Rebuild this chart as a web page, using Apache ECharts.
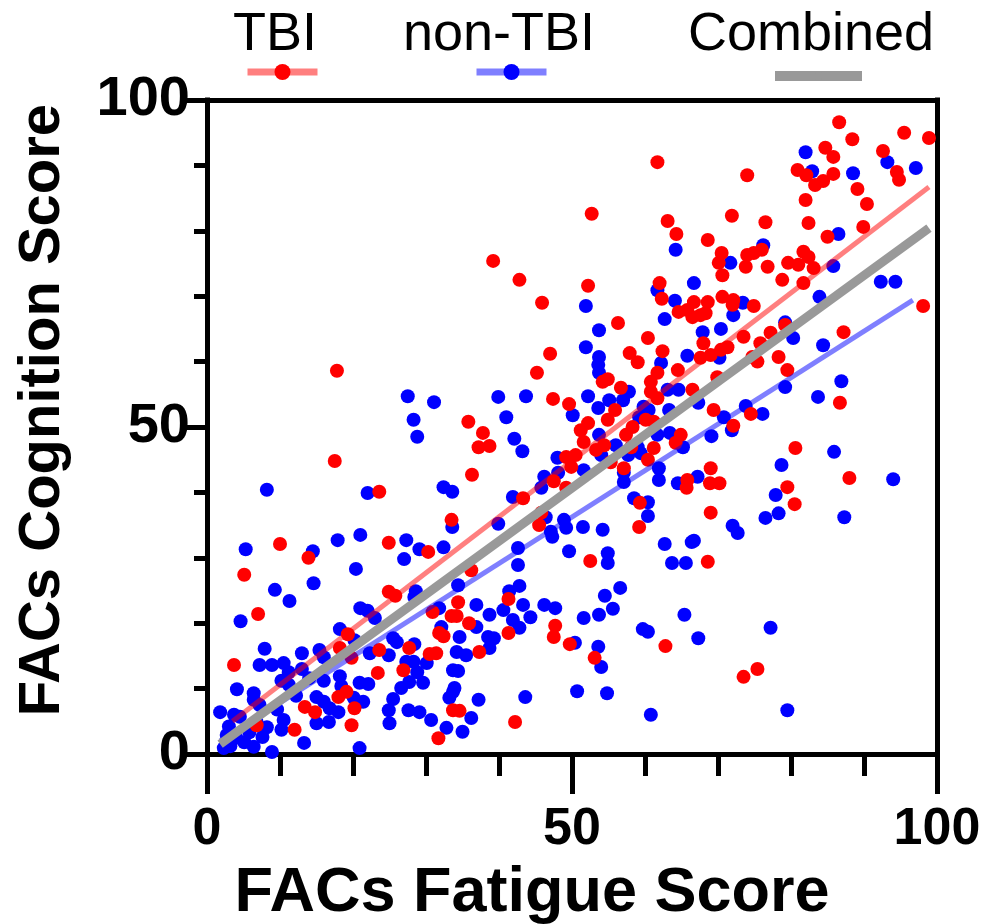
<!DOCTYPE html>
<html>
<head>
<meta charset="utf-8">
<script src="https://cdn.jsdelivr.net/npm/echarts@6/dist/echarts.min.js"></script>
<style>
  html, body { margin: 0; padding: 0; background: #fff; }
  #chart { width: 994px; height: 924px; }
</style>
</head>
<body>
<div id="chart"></div>
<script>
// TBI points [fatigue, cognition]
const tbiPoints = [
  [17.8,58.6],[17.5,44.8],[23.6,40.1],[33.5,35.8],[10.0,32.1],[13.9,30.0],[24.9,32.3],[30.3,30.9],
  [5.1,27.4],[7.0,21.4],[24.9,24.8],[25.8,24.2],[30.9,21.7],[33.5,21.1],[19.3,18.3],[18.2,16.2],
  [19.8,14.7],[3.7,13.6],[23.6,15.9],[23.4,12.4],[27.7,16.2],[30.5,15.3],[26.9,12.8],[31.7,2.4],
  [18.0,8.7],[19.1,9.5],[20.2,7.0],[19.8,4.4],[13.4,7.2],[14.8,6.4],[6.8,4.4],[12.0,3.7],
  [33.7,6.7],[31.8,18.5],[31.4,15.4],[32.4,18.0],
  [61.7,90.5],[52.7,82.6],[63.1,81.5],[64.3,79.5],[39.2,75.4],[42.8,72.5],[45.9,69.0],[52.2,71.6],
  [56.3,65.9],[62.0,72.0],[62.3,69.6],[66.7,69.1],[64.6,67.6],[65.8,67.9],[66.5,66.8],
  [60.4,63.6],[47.0,61.2],[45.2,58.3],[57.9,61.3],[59.0,59.9],[62.4,61.6],[64.5,58.7],[61.7,58.3],
  [60.8,56.9],[54.2,56.9],[54.9,57.3],[56.7,56.0],[55.9,52.6],[54.9,51.1],[49.6,53.5],[47.4,54.3],
  [35.8,50.8],[37.8,49.1],[37.2,46.9],[38.7,47.1],[36.3,42.7],[60.8,55.4],[61.7,54.4],[60.1,51.1],
  [61.2,50.8],[66.5,55.7],[58.3,50.0],[57.4,48.8],[58.1,46.9],[64.9,48.8],[64.2,47.6],[61.2,46.8],
  [51.2,49.5],[52.2,50.6],[51.6,47.7],[54.4,47.2],[53.3,46.5],[60.4,45.0],[57.1,43.7],[55.3,44.6],
  [50.5,45.7],[49.2,45.4],[49.9,43.9],[47.5,41.7],[49.2,40.7],[43.3,39.1],[45.8,36.9],[45.5,35.0],
  [65.8,41.9],[65.7,40.7],[59.3,38.4],[59.2,34.7],
  [36.2,28.1],[41.3,23.7],[34.4,23.2],[34.2,21.1],[35.9,20.0],[41.3,18.5],[37.3,15.6],[34.6,6.6],
  [42.2,4.9],[52.5,29.5],[47.7,19.6],[47.5,17.9],[49.7,16.8],[53.1,14.7],[62.8,16.5],
  [98.1,68.5],[87.2,64.5],[86.7,53.7],[79.5,58.7],[78.3,60.7],[77.2,64.4],[79.2,65.6],[75.4,60.0],
  [74.7,60.7],[75.8,62.8],[73.5,63.8],[71.3,62.2],[70.4,61.8],[69.0,61.0],[67.6,60.6],[68.0,62.8],
  [67.6,67.1],[72.0,68.7],[74.9,68.5],[69.4,52.6],[72.1,50.2],[74.5,52.0],[80.6,46.8],[88.0,42.2],
  [79.5,40.8],[80.5,38.2],[69.0,43.7],[68.9,41.4],[70.2,41.4],[69.0,36.9],[68.6,29.4],[73.5,11.8],
  [75.4,13.0],
  [86.6,96.6],[88.4,94.0],[95.5,95.0],[98.9,94.2],[92.6,92.2],[94.5,89.0],[94.8,87.8],[84.7,92.7],
  [85.8,91.3],[80.9,89.3],[82.1,88.5],[83.3,87.0],[84.4,87.6],[85.8,88.7],[89.1,86.4],[90.4,84.1],
  [74.0,88.5],[82.0,84.7],[82.4,81.2],[89.9,80.6],[85.0,79.1],[71.9,82.3],[76.5,81.3],[68.6,78.6],
  [70.5,76.6],[70.1,75.1],[70.6,73.2],[74.0,76.3],[74.9,76.6],[76.0,77.1],[73.8,74.5],[76.8,74.5],
  [78.8,72.5],[79.6,75.1],[81.0,74.8],[81.7,76.8],[82.4,76.0],[83.1,74.3],[81.7,72.0],[68.6,69.1],
  [70.6,69.9],[72.1,69.4],[68.3,67.4],[69.9,57.6]
];

// non-TBI points [fatigue, cognition]
const nonTbiPoints = [
  [27.5,54.7],[31.1,53.8],[28.3,51.1],[28.8,48.5],[8.2,40.4],[22.0,39.9],[32.4,40.8],[33.6,40.1],
  [33.6,34.7],[5.3,31.3],[14.5,31.0],[17.9,32.7],[21.0,33.5],[27.3,32.7],[29.1,31.3],[32.4,31.6],
  [27.0,29.8],
  [20.4,28.3],[14.6,26.1],[9.3,25.1],[11.3,23.4],[4.6,20.3],[21.0,22.3],[22.0,21.9],[23.0,20.8],
  [28.6,24.9],[28.4,24.0],[31.8,22.3],[18.2,19.1],[20.2,17.4],[7.9,16.1],[13.0,15.4],[15.4,15.9],
  [16.0,14.8],[7.2,13.6],[8.9,13.6],[10.5,13.9],[11.2,12.5],[13.0,13.0],[10.2,11.2],[11.2,10.6],
  [4.1,9.9],[16.0,11.2],[18.2,11.9],[18.4,10.4],[22.3,15.4],[24.9,15.1],[25.5,17.7],[26.0,17.1],
  [28.4,16.8],[30.1,13.9],[28.3,14.1],[27.3,14.1],[28.8,12.5],[27.7,11.0],[29.6,10.9],[26.6,10.1],
  [25.5,8.4],[24.9,6.7],[25.0,4.7],[27.6,6.7],[29.1,6.4],[30.7,5.2],[20.9,10.9],[22.1,10.7],
  [15.0,8.7],[16.0,8.0],[16.8,7.0],[18.0,6.4],[20.1,8.6],[21.4,8.0],[15.0,4.7],[16.7,4.9],
  [6.4,8.3],[7.2,7.5],[1.8,6.4],[3.7,6.0],[4.5,5.7],[6.8,4.9],[8.2,4.1],[10.5,5.2],
  [10.2,3.7],[2.7,2.9],[2.3,0.9],[5.1,1.8],[6.4,1.1],[8.9,0.3],[13.3,1.7],[20.9,0.9],
  [32.8,4.0],[33.2,8.6],[33.9,10.1],[33.7,12.8],[34.2,15.6],[32.1,19.4],[6.4,9.3],
  [3.0,4.2],[4.0,2.5],[5.8,3.3],[7.6,2.6],[3.2,1.2],[9.6,6.8],[12.2,8.9],[14.0,11.6],
  [64.2,77.1],[51.9,68.5],[53.7,64.8],[61.7,70.9],[64.1,69.3],[66.7,72.0],[62.7,66.5],
  [51.9,62.2],[53.7,60.7],[53.6,59.5],[53.7,58.3],[62.2,59.8],[65.8,60.9],[57.8,55.4],[57.0,54.1],
  [55.1,54.1],[52.2,54.7],[53.6,52.9],[50.1,51.8],[39.9,54.6],[43.7,54.7],[41.0,51.5],[42.1,48.2],
  [43.2,46.3],[59.8,53.1],[60.5,52.6],[59.2,51.5],[63.1,55.7],[64.6,55.7],[67.3,53.7],[63.3,52.6],
  [59.0,46.9],[61.7,48.8],[63.4,49.1],[65.2,46.9],[53.7,48.8],[54.0,45.7],[56.0,47.2],[57.7,45.7],
  [59.4,46.0],[51.6,43.4],[48.0,45.3],[48.1,43.0],[46.2,42.4],[45.8,40.7],[41.9,39.3],[46.4,36.2],
  [39.9,35.2],[47.1,34.0],[48.9,35.8],[49.2,34.6],[51.5,34.7],[54.2,34.3],[57.1,43.0],[57.1,41.6],
  [61.9,43.7],[61.9,41.9],[64.5,41.4],[58.5,39.1],[60.4,38.5],[60.4,36.4],
  [42.6,31.5],[42.6,28.9],[34.4,25.8],[42.8,25.7],[41.4,24.9],[36.9,22.8],[38.7,21.3],[40.6,22.0],
  [43.3,22.8],[44.3,20.9],[41.9,20.5],[42.8,19.3],[36.9,19.4],[38.5,17.9],[39.3,17.7],[34.6,17.9],
  [38.7,16.2],[35.5,15.1],[34.4,12.7],[33.7,9.5],[37.2,8.3],[36.2,5.5],[35.0,3.4],[43.6,8.7],
  [47.3,33.2],[49.6,31.0],[54.9,30.7],[54.9,29.2],[62.7,32.1],[66.4,32.4],[63.7,29.2],[65.6,29.2],
  [56.6,25.4],[54.5,24.2],[55.6,22.2],[53.7,21.3],[51.6,20.8],[46.2,22.8],[47.7,22.3],[50.4,17.0],
  [53.6,16.4],[54.0,13.3],[50.7,9.6],[54.8,9.3],[59.7,19.1],[60.4,18.7],[65.4,21.3],[67.3,17.7],
  [60.8,6.0],
  [84.4,62.5],[86.9,57.0],[83.7,54.6],[79.2,56.1],[80.3,63.6],[70.2,60.6],[70.4,65.0],[67.9,64.5],
  [72.1,67.1],[73.4,69.0],[70.8,51.5],[71.9,49.5],[69.1,48.6],[73.8,53.2],[76.1,52.0],[85.9,46.2],
  [94.0,42.0],[78.7,44.2],[77.9,39.6],[78.3,36.8],[76.5,36.1],[87.3,36.2],[72.0,34.9],[72.7,33.8],
  [67.2,42.4],[66.7,32.6],[77.2,19.3],[79.5,6.7],
  [93.2,90.5],[97.1,89.6],[82.0,92.0],[82.9,89.1],[88.5,88.8],[86.5,79.5],[71.7,75.1],[76.2,77.8],
  [85.8,74.6],[92.3,72.2],[94.3,72.2],[83.9,69.9],[79.2,66.0]
];

// regression line end points
const tbiFit = [[3.5, 5.0], [98.9, 86.7]];
const nonTbiFit = [[1.8, 2.0], [96.7, 69.4]];
const combinedFit = [[1.8, 1.5], [98.9, 80.4]];

const legendNames = ['TBI', 'non-TBI', 'Combined'];

const FONT = '"Liberation Sans", Arial, sans-serif';

let myChart = echarts.init(document.getElementById('chart'));

const axisBase = {
  type: 'value',
  min: 0,
  max: 100,
  interval: 50,
  axisLine: { show: true, onZero: false, lineStyle: { color: '#000', width: 5, cap: 'square' } },
  splitLine: { show: false },
  minorSplitLine: { show: false }
};

const frameAxis = {
  type: 'value',
  min: 0,
  max: 100,
  axisLine: { show: true, onZero: false, lineStyle: { color: '#000', width: 5, cap: 'square' } },
  axisTick: { show: false },
  axisLabel: { show: false },
  splitLine: { show: false }
};

function makeLegend(name, left, top, width, height, lineWidth) {
  return {
    data: [name],
    left: left,
    top: top,
    padding: 0,
    itemWidth: width,
    itemHeight: height,
    selectedMode: false,
    formatter: () => '',
    lineStyle: { width: lineWidth },
    textStyle: { fontSize: 1 }
  };
}

let option = {
  animation: false,
  backgroundColor: '#fff',
  grid: { left: 207, right: 57, top: 100, bottom: 170, outerBoundsMode: 'none' },
  legend: [
    makeLegend('TBI', 244, 62, 70, 20, 7),
    makeLegend('non-TBI', 473, 62, 70, 20, 7),
    makeLegend('Combined', 770, 71, 87, 10, 10)
  ],
  graphic: [
    { type: 'text', left: 233, top: 8, style: { text: legendNames[0], font: '54px ' + FONT, fill: '#000' } },
    { type: 'text', left: 403, top: 8, style: { text: legendNames[1], font: '54px ' + FONT, fill: '#000' } },
    { type: 'text', left: 688, top: 8, style: { text: legendNames[2], font: '54px ' + FONT, fill: '#000' } }
  ],
  xAxis: [
    Object.assign({}, axisBase, {
      name: 'FACs Fatigue Score',
      nameLocation: 'middle',
      nameGap: 108,
      nameTextStyle: { fontFamily: FONT, fontWeight: 'bold', fontSize: 63, color: '#000', padding: [0, 80, 0, 0] },
      axisTick: { show: true, length: 40, lineStyle: { color: '#000', width: 5 } },
      minorTick: { show: true, splitNumber: 5, length: 22, lineStyle: { color: '#000', width: 5 } },
      axisLabel: { fontFamily: FONT, fontWeight: 'bold', fontSize: 52, color: '#000', margin: 50 }
    }),
    Object.assign({}, frameAxis, { position: 'top' })
  ],
  yAxis: [
    Object.assign({}, axisBase, {
      name: 'FACs Cognition Score',
      nameLocation: 'middle',
      nameGap: 135,
      nameRotate: 90,
      nameTextStyle: { fontFamily: FONT, fontWeight: 'bold', fontSize: 58, color: '#000', padding: [0, 0, 0, 34] },
      axisTick: { show: true, length: 22, lineStyle: { color: '#000', width: 5 } },
      minorTick: { show: true, splitNumber: 5, length: 13, lineStyle: { color: '#000', width: 5 } },
      axisLabel: { fontFamily: FONT, fontWeight: 'bold', fontSize: 56, color: '#000', margin: 17 }
    }),
    Object.assign({}, frameAxis, { position: 'right' })
  ],
  series: [
    {
      name: 'TBI',
      type: 'line',
      data: tbiFit,
      z: 4,
      symbol: 'circle',
      symbolSize: 14,
      showSymbol: false,
      silent: true,
      itemStyle: { color: '#ff0000' },
      lineStyle: { color: 'rgba(255,0,0,0.5)', width: 5 }
    },
    {
      name: 'non-TBI',
      type: 'line',
      data: nonTbiFit,
      z: 4,
      symbol: 'circle',
      symbolSize: 14,
      showSymbol: false,
      silent: true,
      itemStyle: { color: '#0000ff' },
      lineStyle: { color: 'rgba(0,0,255,0.5)', width: 5 }
    },
    {
      name: 'Combined',
      type: 'line',
      data: combinedFit,
      z: 5,
      symbol: 'none',
      silent: true,
      itemStyle: { color: '#999999' },
      lineStyle: { color: '#999999', width: 9 }
    },
    {
      name: 'non-TBI',
      type: 'scatter',
      data: nonTbiPoints,
      z: 2,
      symbolSize: 14,
      itemStyle: { color: '#0000ff', opacity: 1 }
    },
    {
      name: 'TBI',
      type: 'scatter',
      data: tbiPoints,
      z: 3,
      symbolSize: 14,
      itemStyle: { color: '#ff0000', opacity: 1 }
    }
  ]
};
myChart.setOption(option);
</script>
</body>
</html>
